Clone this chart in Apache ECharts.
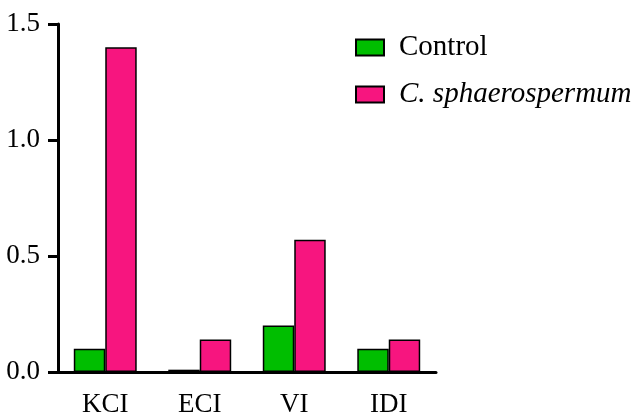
<!DOCTYPE html>
<html>
<head>
<meta charset="utf-8">
<script src="https://cdn.jsdelivr.net/npm/echarts@6/dist/echarts.min.js"></script>
<style>
  html, body { margin: 0; padding: 0; background: #fff; }
  #chart { width: 633px; height: 419px; }
</style>
</head>
<body>
<div id="chart"></div>
<script>
// Index categories and values for each treatment group
const categories = ['KCI', 'ECI', 'VI', 'IDI'];
const controlValues = [0.1, 0.01, 0.2, 0.1];
const sphaeroValues = [1.4, 0.14, 0.57, 0.14];
const seriesNames = ['Control', 'C. sphaerospermum'];
const yTicks = { min: 0, max: 1.5, interval: 0.5 };

const FONT = 'Liberation Serif';
const chart = echarts.init(document.getElementById('chart'));

chart.setOption({
  animation: false,
  backgroundColor: '#ffffff',
  grid: { left: 58, right: 197, top: 24, bottom: 47, containLabel: false },
  legend: {
    orient: 'vertical',
    left: 355,
    top: 33,
    padding: 0,
    itemWidth: 28,
    itemHeight: 16,
    itemGap: 18,
    icon: 'rect',
    data: seriesNames,
    formatter: function (name) {
      return name === 'C. sphaerospermum' ? '{i|' + name + '}' : '{n|' + name + '}';
    },
    textStyle: {
      color: '#000',
      fontFamily: FONT,
      fontSize: 29,
      padding: [0, 0, 0, 10],
      rich: {
        n: { fontFamily: FONT, fontSize: 29, color: '#000' },
        i: { fontFamily: FONT, fontSize: 29, fontStyle: 'italic', color: '#000' }
      }
    }
  },
  xAxis: {
    type: 'category',
    data: categories,
    boundaryGap: true,
    axisLine: { lineStyle: { color: '#000', width: 3 } },
    axisTick: { alignWithLabel: true, length: 13, lineStyle: { color: '#000', width: 3 } },
    axisLabel: { color: '#000', fontFamily: FONT, fontSize: 27, margin: 19 },
    splitLine: { show: false }
  },
  yAxis: {
    type: 'value',
    min: yTicks.min,
    max: yTicks.max,
    interval: yTicks.interval,
    axisLine: { show: true, lineStyle: { color: '#000', width: 3 } },
    axisTick: { show: true, length: 10, lineStyle: { color: '#000', width: 3 } },
    axisLabel: {
      color: '#000', fontFamily: FONT, fontSize: 27, margin: 18,
      formatter: function (v) { return v.toFixed(1); }
    },
    splitLine: { show: false }
  },
  series: [
    {
      name: seriesNames[0],
      type: 'bar',
      data: controlValues,
      barWidth: '33.3%',
      barGap: '0%',
      itemStyle: { color: '#00BE00', borderColor: '#000', borderWidth: 1.5 }
    },
    {
      name: seriesNames[1],
      type: 'bar',
      data: sphaeroValues,
      barWidth: '33.3%',
      barGap: '0%',
      itemStyle: { color: '#F7157F', borderColor: '#000', borderWidth: 1.5 }
    }
  ]
});
</script>
</body>
</html>
